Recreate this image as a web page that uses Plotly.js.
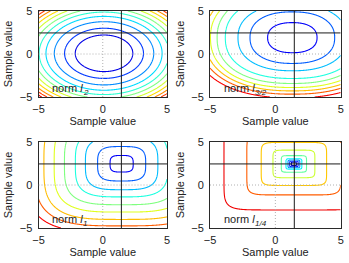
<!DOCTYPE html>
<html>
<head>
<meta charset="utf-8">
<script src="https://cdn.plot.ly/plotly-3.0.1.min.js"></script>
<style>
  html, body { margin: 0; padding: 0; background: #fff; }
  #chart { width: 349px; height: 263px; }
</style>
</head>
<body>
<div id="chart"></div>
<script>
// ---- data ----
const normLabels = ['2', '3/2', '1', '1/4'];
// centre of each cost surface (sample value units)
const centerX = [0.10, 1.30, 1.47, 1.42];
const centerY = [0.08, 1.90, 2.47, 2.45];
// shape exponent of the contour family and axis scaling
const shapeExp = [2.0, 2.3, 3.5, 8.0];
const scaleX = [1.00, 1.08, 1.00, 1.00];
const scaleY = [0.95, 1.00, 1.07, 1.00];
// contour levels (half-widths along x) of each panel
const levelsL2 = [2.24, 3.07, 3.87, 4.52, 5.05, 5.50, 5.92, 6.30, 6.65, 6.95, 7.22];
const levelsL32 = [1.75, 3.00, 3.85, 4.75, 5.33, 5.80, 6.19, 6.57, 7.00];
const levelsL1 = [0.90, 1.87, 2.82, 3.60, 4.45, 5.25, 6.05, 6.75, 7.45];
const levelsL14 = [0.19, 0.32, 0.45, 0.60, 0.96, 1.60, 2.50, 3.60, 5.35];
const panelLevels = [levelsL2, levelsL32, levelsL1, levelsL14];
// colour positions on the jet colormap (first and last level)
const colorStart = [0.10, 0.12, 0.12, 0.05];
const colorEnd = [0.90, 0.88, 0.88, 0.89];
// reference cross and axis ticks
const crossX = 1.45, crossY = 2.45;
const tickValues = [-5, 0, 5];
const axisRange = [-5, 5];
const axisTitle = 'Sample value';

// ---- helpers ----
function jet(t) {
  const c = v => Math.max(0, Math.min(1, v));
  const r = c(1.5 - Math.abs(4 * t - 3));
  const g = c(1.5 - Math.abs(4 * t - 2));
  const b = c(1.5 - Math.abs(4 * t - 1));
  return 'rgb(' + Math.round(r * 255) + ',' + Math.round(g * 255) + ',' + Math.round(b * 255) + ')';
}
function levelIndex(f, L) {
  const n = L.length;
  if (f <= L[0]) return (f - L[0]) / (L[1] - L[0]);
  for (let k = 0; k < n - 1; k++) {
    if (f < L[k + 1]) return k + (f - L[k]) / (L[k + 1] - L[k]);
  }
  return (n - 1) + (f - L[n - 1]) / (L[n - 1] - L[n - 2]);
}

const N = 301;
const gx = [], gy = [];
for (let i = 0; i < N; i++) {
  const v = axisRange[0] + (axisRange[1] - axisRange[0]) * i / (N - 1);
  gx.push(v); gy.push(v);
}

const traces = [];
const shapes = [];
const annotations = [];
const layout = {
  width: 349, height: 263,
  margin: {l: 0, r: 0, t: 0, b: 0},
  paper_bgcolor: '#fff', plot_bgcolor: '#fff',
  showlegend: false,
  font: {family: 'Liberation Sans, Arial, sans-serif', size: 11, color: '#222'}
};

const xDom = [[38.5 / 349, 167 / 349], [210 / 349, 340.7 / 349]];
const yDom = [[(263 - 97) / 263, (263 - 11) / 263], [(263 - 228) / 263, (263 - 142) / 263]];

for (let p = 0; p < 4; p++) {
  const L = panelLevels[p];
  const n = L.length;
  const q = shapeExp[p];
  const z = [];
  for (let j = 0; j < N; j++) {
    const row = [];
    const dy = Math.abs(gy[j] - centerY[p]) / scaleY[p];
    for (let i = 0; i < N; i++) {
      const dx = Math.abs(gx[i] - centerX[p]) / scaleX[p];
      const f = Math.pow(Math.pow(dx, q) + Math.pow(dy, q), 1 / q);
      row.push(levelIndex(f, L));
    }
    z.push(row);
  }
  const cs = [];
  for (let k = 0; k < n; k++) {
    const t = colorStart[p] + (colorEnd[p] - colorStart[p]) * k / (n - 1);
    cs.push([k / (n - 1), jet(t)]);
  }
  const ax = p === 0 ? '' : String(p + 1);
  traces.push({
    type: 'contour', x: gx, y: gy, z: z,
    xaxis: 'x' + ax, yaxis: 'y' + ax,
    autocontour: false,
    contours: {start: 0, end: n - 1, size: 1, coloring: 'lines', showlabels: false},
    line: {width: 1.1, smoothing: 1},
    colorscale: cs, zmin: 0, zmax: n - 1, zauto: false,
    showscale: false, hoverinfo: 'skip'
  });
  const col = p % 2, row = Math.floor(p / 2);
  const common = {
    range: axisRange, tickvals: tickValues, showgrid: false, zeroline: false,
    showline: true, mirror: true, linecolor: '#2a2a2a', linewidth: 1,
    ticks: '', tickfont: {size: 11, color: '#222'}, fixedrange: true
  };
  layout['xaxis' + ax] = Object.assign({}, common, {
    domain: xDom[col], anchor: 'y' + ax, ticklabelstandoff: 2,
    title: {text: axisTitle, font: {size: 11, color: '#222'}, standoff: 2}
  });
  layout['yaxis' + ax] = Object.assign({}, common, {
    domain: yDom[row], anchor: 'x' + ax, ticklabelstandoff: 3,
    title: {text: axisTitle, font: {size: 11, color: '#222'}, standoff: 4}
  });

  const xr = 'x' + ax, yr = 'y' + ax;
  // dotted zero lines
  shapes.push({type: 'line', xref: xr, yref: yr, x0: 0, x1: 0, y0: axisRange[0], y1: axisRange[1],
    line: {color: '#b0b0b0', width: 1, dash: '1px,2px'}});
  shapes.push({type: 'line', xref: xr, yref: yr, x0: axisRange[0], x1: axisRange[1], y0: 0, y1: 0,
    line: {color: '#b0b0b0', width: 1, dash: '1px,2px'}});
  // reference cross
  shapes.push({type: 'line', xref: xr, yref: yr, x0: crossX, x1: crossX, y0: axisRange[0], y1: axisRange[1],
    line: {color: '#1a1a1a', width: 1}});
  shapes.push({type: 'line', xref: xr, yref: yr, x0: axisRange[0], x1: axisRange[1], y0: crossY, y1: crossY,
    line: {color: '#1a1a1a', width: 1}});
  // norm label: main text and its subscript
  annotations.push({xref: xr, yref: yr, x: -4.1, y: -3.9, xanchor: 'left', yanchor: 'middle',
    showarrow: false, text: 'norm <i>l</i>', font: {size: 11, color: '#222'}});
  annotations.push({xref: xr, yref: yr, x: -4.1, y: -3.9, xanchor: 'left', yanchor: 'middle',
    xshift: 31, yshift: -5, showarrow: false, text: '<i>' + normLabels[p] + '</i>',
    font: {size: 8, color: '#222'}});
}
layout.shapes = shapes;
layout.annotations = annotations;

Plotly.newPlot('chart', traces, layout, {staticPlot: true, displayModeBar: false});
</script>
</body>
</html>
